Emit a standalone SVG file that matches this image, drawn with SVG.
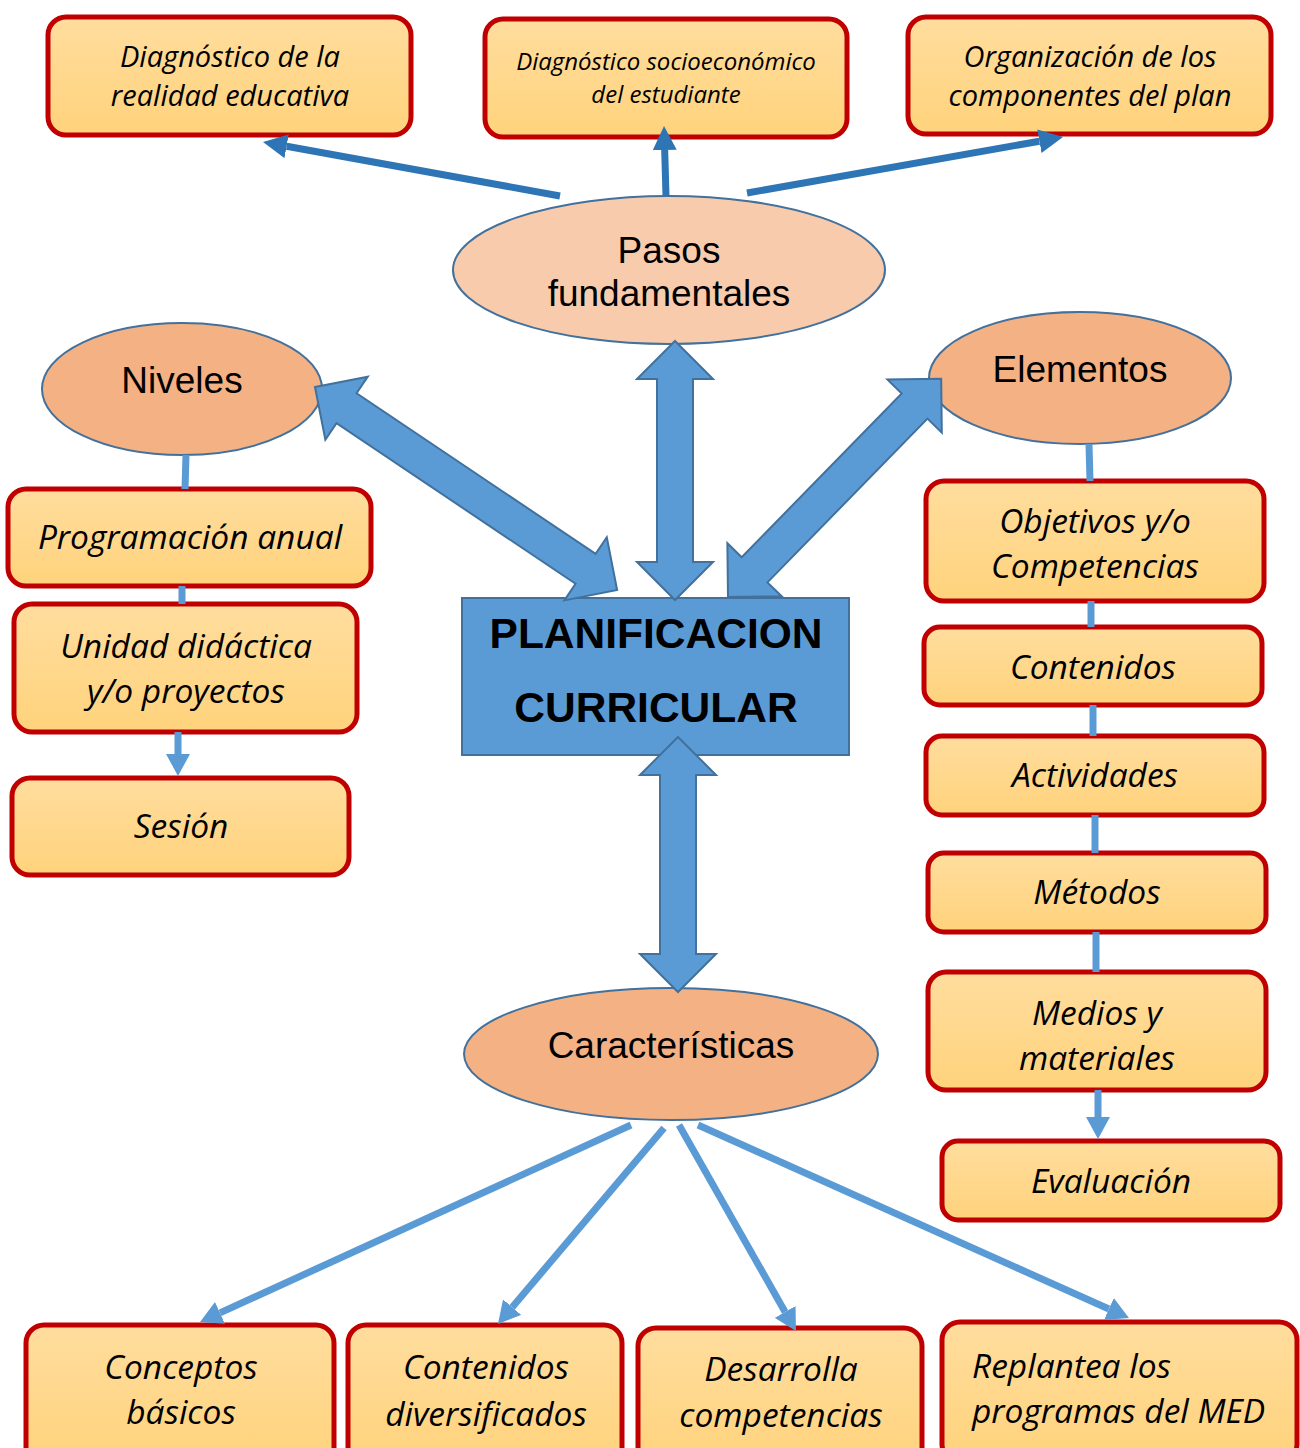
<svg xmlns="http://www.w3.org/2000/svg" width="1300" height="1448" viewBox="0 0 1300 1448">
<defs>
<linearGradient id="boxg" x1="0" y1="0" x2="0" y2="1">
<stop offset="0" stop-color="#FFDD9E"/>
<stop offset="1" stop-color="#FFD37C"/>
</linearGradient>
<marker id="hDark" markerUnits="userSpaceOnUse" markerWidth="24" markerHeight="24" refX="0" refY="12" orient="auto">
<path d="M0,0 L24,12 L0,24 Z" fill="#2E75B6"/>
</marker>
<marker id="hLight" markerUnits="userSpaceOnUse" markerWidth="22" markerHeight="24" refX="0" refY="12" orient="auto">
<path d="M0,0 L22,12 L0,24 Z" fill="#5B9BD5"/>
</marker>
</defs>
<style>
.box{fill:url(#boxg);stroke:#C00000;stroke-width:5}
.ell{stroke:#41719C;stroke-width:2}
.bt{font-family:"Open Sans","Noto Sans",sans-serif;font-style:italic;font-size:33.5px;text-anchor:middle;fill:#000}
.bt27{font-size:29px}
.bt22{font-size:24px}
.et{font-family:"Liberation Sans",Arial,sans-serif;font-size:37px;text-anchor:middle;fill:#000}
.ct{font-family:"Liberation Sans",Arial,sans-serif;font-size:42.5px;font-weight:bold;text-anchor:middle;fill:#000}
.dark{stroke:#2E75B6;stroke-width:7;fill:none;marker-end:url(#hDark)}
.light{stroke:#5B9BD5;stroke-width:7;fill:none}
.lighta{stroke:#5B9BD5;stroke-width:7;fill:none;marker-end:url(#hLight)}
.block{fill:#5B9BD5;stroke:#41719C;stroke-width:2}
</style>
<rect width="1300" height="1448" fill="#FFFFFF"/>

<g id="n_diag_realidad">
<rect class="box" x="48" y="17" width="363" height="118" rx="18"/>
<text class="bt bt27" x="230" y="67">Diagnóstico de la</text>
<text class="bt bt27" x="230" y="106">realidad educativa</text>
</g>
<g id="n_diag_socio">
<rect class="box" x="485" y="19" width="362" height="118" rx="18"/>
<text class="bt bt22" x="666" y="70">Diagnóstico socioeconómico</text>
<text class="bt bt22" x="666" y="103">del estudiante</text>
</g>
<g id="n_organizacion">
<rect class="box" x="908" y="17" width="363" height="117" rx="18"/>
<text class="bt bt27" x="1090" y="67">Organización de los</text>
<text class="bt bt27" x="1090" y="106">componentes del plan</text>
</g>

<g id="n_pasos">
<ellipse class="ell" cx="669" cy="270" rx="216" ry="74" fill="#F8CBAD"/>
<text class="et" x="669" y="263">Pasos</text>
<text class="et" x="669" y="306">fundamentales</text>
</g>
<g id="n_niveles">
<ellipse class="ell" cx="182" cy="389" rx="140" ry="66" fill="#F4B183"/>
<text class="et" x="182" y="393">Niveles</text>
</g>
<g id="n_elementos">
<ellipse class="ell" cx="1080" cy="378" rx="151" ry="66" fill="#F4B183"/>
<text class="et" x="1080" y="382">Elementos</text>
</g>

<g id="n_planificacion">
<rect x="462" y="598" width="387" height="157" fill="#5B9BD5" stroke="#41719C" stroke-width="2"/>
<text class="ct" x="656" y="648">PLANIFICACION</text>
<text class="ct" x="656" y="722">CURRICULAR</text>
</g>

<g id="n_programacion">
<rect class="box" x="8" y="489" width="363" height="97" rx="18"/>
<text class="bt" x="190" y="549">Programación anual</text>
</g>
<g id="n_unidad">
<rect class="box" x="14" y="604" width="343" height="128" rx="18"/>
<text class="bt" x="186" y="658">Unidad didáctica</text>
<text class="bt" x="186" y="703">y/o proyectos</text>
</g>
<g id="n_sesion">
<rect class="box" x="12" y="778" width="337" height="97" rx="18"/>
<text class="bt" x="181" y="838">Sesión</text>
</g>

<g id="n_objetivos">
<rect class="box" x="926" y="481" width="338" height="120" rx="18"/>
<text class="bt" x="1095" y="533">Objetivos y/o</text>
<text class="bt" x="1095" y="578">Competencias</text>
</g>
<g id="n_contenidos">
<rect class="box" x="924" y="627" width="338" height="78" rx="16"/>
<text class="bt" x="1093" y="679">Contenidos</text>
</g>
<g id="n_actividades">
<rect class="box" x="926" y="736" width="338" height="79" rx="16"/>
<text class="bt" x="1095" y="787">Actividades</text>
</g>
<g id="n_metodos">
<rect class="box" x="928" y="853" width="338" height="79" rx="16"/>
<text class="bt" x="1097" y="904">Métodos</text>
</g>
<g id="n_medios">
<rect class="box" x="928" y="972" width="338" height="118" rx="18"/>
<text class="bt" x="1097" y="1025">Medios y</text>
<text class="bt" x="1097" y="1070">materiales</text>
</g>
<g id="n_evaluacion">
<rect class="box" x="942" y="1141" width="338" height="79" rx="16"/>
<text class="bt" x="1111" y="1193">Evaluación</text>
</g>

<g id="n_caracteristicas">
<ellipse class="ell" cx="671" cy="1054" rx="207" ry="66" fill="#F4B183"/>
<text class="et" x="671" y="1058">Características</text>
</g>

<g id="n_conceptos">
<rect class="box" x="26" y="1325" width="308" height="140" rx="18"/>
<text class="bt" x="181" y="1379">Conceptos</text>
<text class="bt" x="181" y="1424">básicos</text>
</g>
<g id="n_cont_div">
<rect class="box" x="348" y="1325" width="274" height="140" rx="18"/>
<text class="bt" x="486" y="1379">Contenidos</text>
<text class="bt" x="486" y="1426">diversificados</text>
</g>
<g id="n_desarrolla">
<rect class="box" x="638" y="1328" width="284" height="140" rx="18"/>
<text class="bt" x="781" y="1381">Desarrolla</text>
<text class="bt" x="781" y="1427">competencias</text>
</g>
<g id="n_replantea">
<rect class="box" x="942" y="1322" width="355" height="140" rx="18"/>
<text class="bt" x="972" y="1378" style="text-anchor:start">Replantea los</text>
<text class="bt" x="972" y="1423" style="text-anchor:start">programas del MED</text>
</g>

<g id="connectors">
<line class="dark" x1="560" y1="196" x2="286.6" y2="146.3"/>
<line class="dark" x1="666" y1="196" x2="664.7" y2="150"/>
<line class="dark" x1="747" y1="193" x2="1039.4" y2="141.2"/>

<path class="block" transform="translate(675,341) rotate(90)" d="M0,0 L38,-38 L38,-18 L221,-18 L221,-38 L259,0 L221,38 L221,18 L38,18 L38,38 Z"/>
<path class="block" transform="translate(678,737) rotate(90)" d="M0,0 L38,-38 L38,-18 L217,-18 L217,-38 L255,0 L217,38 L217,18 L38,18 L38,38 Z"/>
<path class="block" transform="translate(315,387) rotate(33.9)" d="M0,0 L38,-38 L38,-18 L326,-18 L326,-38 L364,0 L326,38 L326,18 L38,18 L38,38 Z"/>
<path class="block" transform="translate(728,597) rotate(-45.66)" d="M0,0 L38,-38 L38,-18 L267,-18 L267,-38 L305,0 L267,38 L267,18 L38,18 L38,38 Z"/>

<line class="light" x1="186" y1="455" x2="185" y2="489"/>
<line class="light" x1="182" y1="586" x2="182" y2="604"/>
<line class="lighta" x1="178" y1="732" x2="178" y2="754"/>

<line class="light" x1="1089" y1="444" x2="1090" y2="481"/>
<line class="light" x1="1091" y1="601" x2="1091" y2="627"/>
<line class="light" x1="1093" y1="705" x2="1093" y2="736"/>
<line class="light" x1="1095" y1="815" x2="1095" y2="853"/>
<line class="light" x1="1096" y1="932" x2="1096" y2="972"/>
<line class="lighta" x1="1098" y1="1090" x2="1098" y2="1117"/>

<line class="lighta" x1="631" y1="1125" x2="220" y2="1312.9"/>
<line class="lighta" x1="664" y1="1128" x2="512.2" y2="1307.2"/>
<line class="lighta" x1="679" y1="1125" x2="785.1" y2="1311.9"/>
<line class="lighta" x1="698" y1="1125" x2="1108.9" y2="1309"/>
</g>
</svg>
